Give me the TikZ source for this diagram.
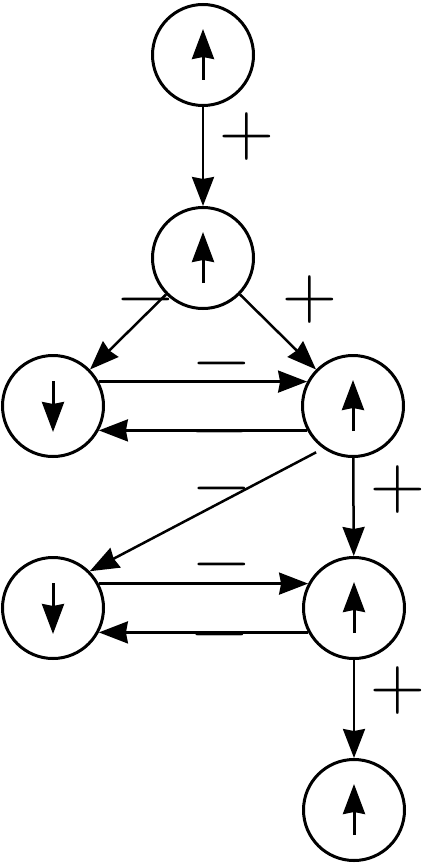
\documentclass[tikz,border=0pt]{standalone}
\usepackage{tikz}
\usetikzlibrary{arrows.meta}

\begin{document}
\begin{tikzpicture}[x=1pt, y=-1pt,
    site/.style={circle, draw, line width=3pt, minimum size=101pt, inner sep=0pt},
    spin/.style={-{Stealth[length=30pt, width=22pt, inset=2pt]}, line width=3pt},
    arr/.style={-{Stealth[length=29pt, width=22pt, inset=2pt]}, line width=2.5pt},
    sign/.style={font=\fontsize{76}{76}\selectfont, inner sep=0pt}]
  \useasboundingbox (0,0) rectangle (426,864);
  \node[site] (A) at (203, 55) {};
  \node[site] (B) at (203,258) {};
  \node[site] (C) at (53,406) {};
  \node[site] (D) at (353,406) {};
  \node[site] (E) at (53,608) {};
  \node[site] (F) at (354,608) {};
  \node[site] (G) at (354,810) {};
  % spins
  \foreach \s in {A,B,D,F,G}
    \draw[spin] ([yshift=-25pt]\s.center) -- ([yshift=26pt]\s.center);
  \foreach \s in {C,E}
    \draw[spin] ([yshift=25pt]\s.center) -- ([yshift=-26pt]\s.center);
  % couplings
  \draw[arr] (A) -- (B);
  \draw[arr] (B) -- (C);
  \draw[arr] (B) -- (D);
  \draw[arr] (C.28) -- (D.152);
  \draw[arr] (D.208) -- (C.-28);
  \draw[arr, shorten <=8pt] (D.235) -- (E.45);
  \draw[arr] (D) -- (F);
  \draw[arr] (E.28) -- (F.152);
  \draw[arr] (F.208) -- (E.-28);
  \draw[arr] (F) -- (G);
  % signs
  \node[sign] (sAB) at (247,137) {+};
  \node[sign] (sBC) at (146,308) {−};
  \node[sign] (sBD) at (310,300) {+};
  \node[sign] (sCD) at (222,372) {−};
  \node[sign] (sDC) at (220,440) {−};
  \node[sign] (sDE) at (222,497) {−};
  \node[sign] (sDF) at (398,490) {+};
  \node[sign] (sEF) at (222,573) {−};
  \node[sign] (sFE) at (220,643) {−};
  \node[sign] (sFG) at (398,691) {+};
\end{tikzpicture}
\end{document}
